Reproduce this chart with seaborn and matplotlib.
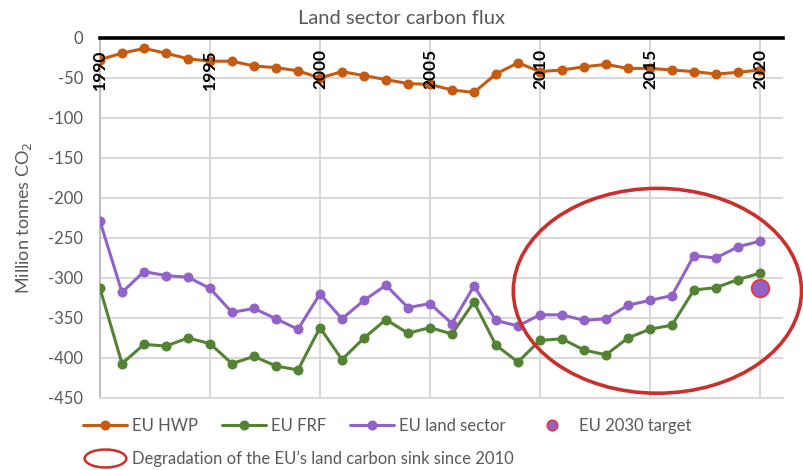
import numpy as np
import pandas as pd
import matplotlib
matplotlib.use("Agg")
import matplotlib.pyplot as plt
from matplotlib.lines import Line2D
from matplotlib.patches import Ellipse
from matplotlib.path import Path
from matplotlib.transforms import Affine2D
import seaborn as sns

# ---------------- data ----------------
years = list(range(1990, 2021))
eu_hwp = [-27, -19, -13, -19, -26, -29, -29, -35, -37, -41,
          -50, -42, -47, -52, -57, -58, -65, -68, -45, -31,
          -42, -40, -36, -33, -38, -38, -40, -42, -45, -43, -40]
eu_frf = [-313, -407, -383, -385, -375, -382, -407, -398, -410, -415,
          -362, -402, -375, -352, -369, -362, -370, -330, -384, -405,
          -378, -376, -390, -396, -375, -364, -359, -315, -312, -302, -294]
eu_land = [-229, -318, -292, -297, -299, -313, -343, -338, -351, -364,
           -320, -351, -328, -309, -337, -332, -357, -310, -353, -360,
           -346, -346, -353, -351, -334, -328, -322, -272, -275, -261, -254]
target_year = [2020]
target_value = [-312]
year_ticks = [1990, 1995, 2000, 2005, 2010, 2015, 2020]
y_ticks = [0, -50, -100, -150, -200, -250, -300, -350, -400, -450]
series_names = ["EU HWP", "EU FRF", "EU land sector"]
target_name = "EU 2030 target"
ellipse_label = "Degradation of the EU\u2019s land carbon sink since 2010"
ellipse_center = (2015.34, -316)
ellipse_size = (13.1, 256)

# ---------------- style ----------------
sns.set_style("white")
plt.rcParams["font.family"] = ["Lato", "DejaVu Sans"]

c_hwp = "#C55A11"
c_frf = "#548235"
c_land = "#9163C8"
c_red = "#C9302C"
grey_txt = "#595959"
grid_c = "#D9D9D9"

df = pd.DataFrame({
    "year": years * 3,
    "value": eu_hwp + eu_frf + eu_land,
    "series": [series_names[0]] * len(years) + [series_names[1]] * len(years)
              + [series_names[2]] * len(years),
})

fig = plt.figure(figsize=(8.04, 4.70), dpi=100)
ax = fig.add_axes([100 / 804, 72 / 470, 683 / 804, 360 / 470])

palette = {series_names[0]: c_hwp, series_names[1]: c_frf, series_names[2]: c_land}
for name in series_names:
    sns.lineplot(data=df[df.series == name], x="year", y="value", color=palette[name],
                 marker="o", markersize=7.2, markeredgewidth=0, linewidth=2.2,
                 ax=ax, legend=False, zorder=3)

tdf = pd.DataFrame({"year": target_year, "value": target_value})
sns.scatterplot(data=tdf, x="year", y="value", color=c_land, edgecolor="#E8383A",
                linewidth=1.3, s=160, ax=ax, legend=False, zorder=4)

ell = Ellipse(ellipse_center, ellipse_size[0], ellipse_size[1], fill=False,
              edgecolor=c_red, linewidth=2.6, zorder=5, clip_on=False)
ax.add_patch(ell)

ax.set_xlim(1990, 2021.05)
ax.set_ylim(-450, 0)
ax.set_xticks(year_ticks)
ax.set_xticklabels([])
ax.set_yticks(y_ticks)
ax.set_yticklabels([str(v) for v in y_ticks], color=grey_txt, fontsize=12)
ax.tick_params(axis="y", length=0, pad=12)
ax.tick_params(axis="x", length=0)
ax.grid(True, color=grid_c, linewidth=1.5, zorder=0)
ax.set_axisbelow(True)
ax.spines["right"].set_visible(False)
ax.spines["top"].set_color("black")
ax.spines["top"].set_linewidth(2.6)
ax.spines["top"].set_zorder(6)
ax.spines["left"].set_color("#BFBFBF")
ax.spines["left"].set_linewidth(1.5)
ax.spines["bottom"].set_color(grid_c)
ax.spines["bottom"].set_linewidth(1.5)
ax.set_xlabel("")
ax.set_ylabel("Million tonnes CO$_2$", color=grey_txt, fontsize=13)
ax.yaxis.set_label_coords((34 - 100) / 683, 0.5)

for yr in year_ticks:
    ax.text(yr, -14.0, str(yr), rotation=90, ha="center", va="top",
            fontsize=12.5, fontweight="bold", color="black", zorder=7)

fig.text(402 / 804, 1 - 18 / 470, "Land sector carbon flux", ha="center", va="center",
         fontsize=14.5, color=grey_txt)

# legends
h1 = [Line2D([], [], color=c_hwp, lw=2.2, marker="o", ms=7.2, mew=0),
      Line2D([], [], color=c_frf, lw=2.2, marker="o", ms=7.2, mew=0),
      Line2D([], [], color=c_land, lw=2.2, marker="o", ms=7.2, mew=0),
      Line2D([], [], ls="none", marker="o", ms=7.5, mfc=c_land, mec="#E8383A", mew=1.2)]
leg1 = fig.legend(h1, series_names + [target_name], loc="center left",
                  bbox_to_anchor=(83 / 804, 1 - 426 / 470), ncol=4, frameon=False,
                  fontsize=12, handlelength=2.65, handletextpad=0.28,
                  columnspacing=1.45, borderpad=0, borderaxespad=0, labelcolor=grey_txt)

ell_path = Affine2D().scale(1.0, 0.43).transform_path(Path.unit_circle())
h2 = [Line2D([], [], ls="none", marker=ell_path, ms=30, mfc="none", mec=c_red, mew=1.8)]
leg2 = fig.legend(h2, [ellipse_label], loc="center left",
                  bbox_to_anchor=(83 / 804, 1 - 459 / 470), frameon=False,
                  fontsize=12, handlelength=2.65, handletextpad=0.28,
                  borderpad=0, borderaxespad=0, labelcolor=grey_txt)

fig.savefig("out.png", dpi=100)
